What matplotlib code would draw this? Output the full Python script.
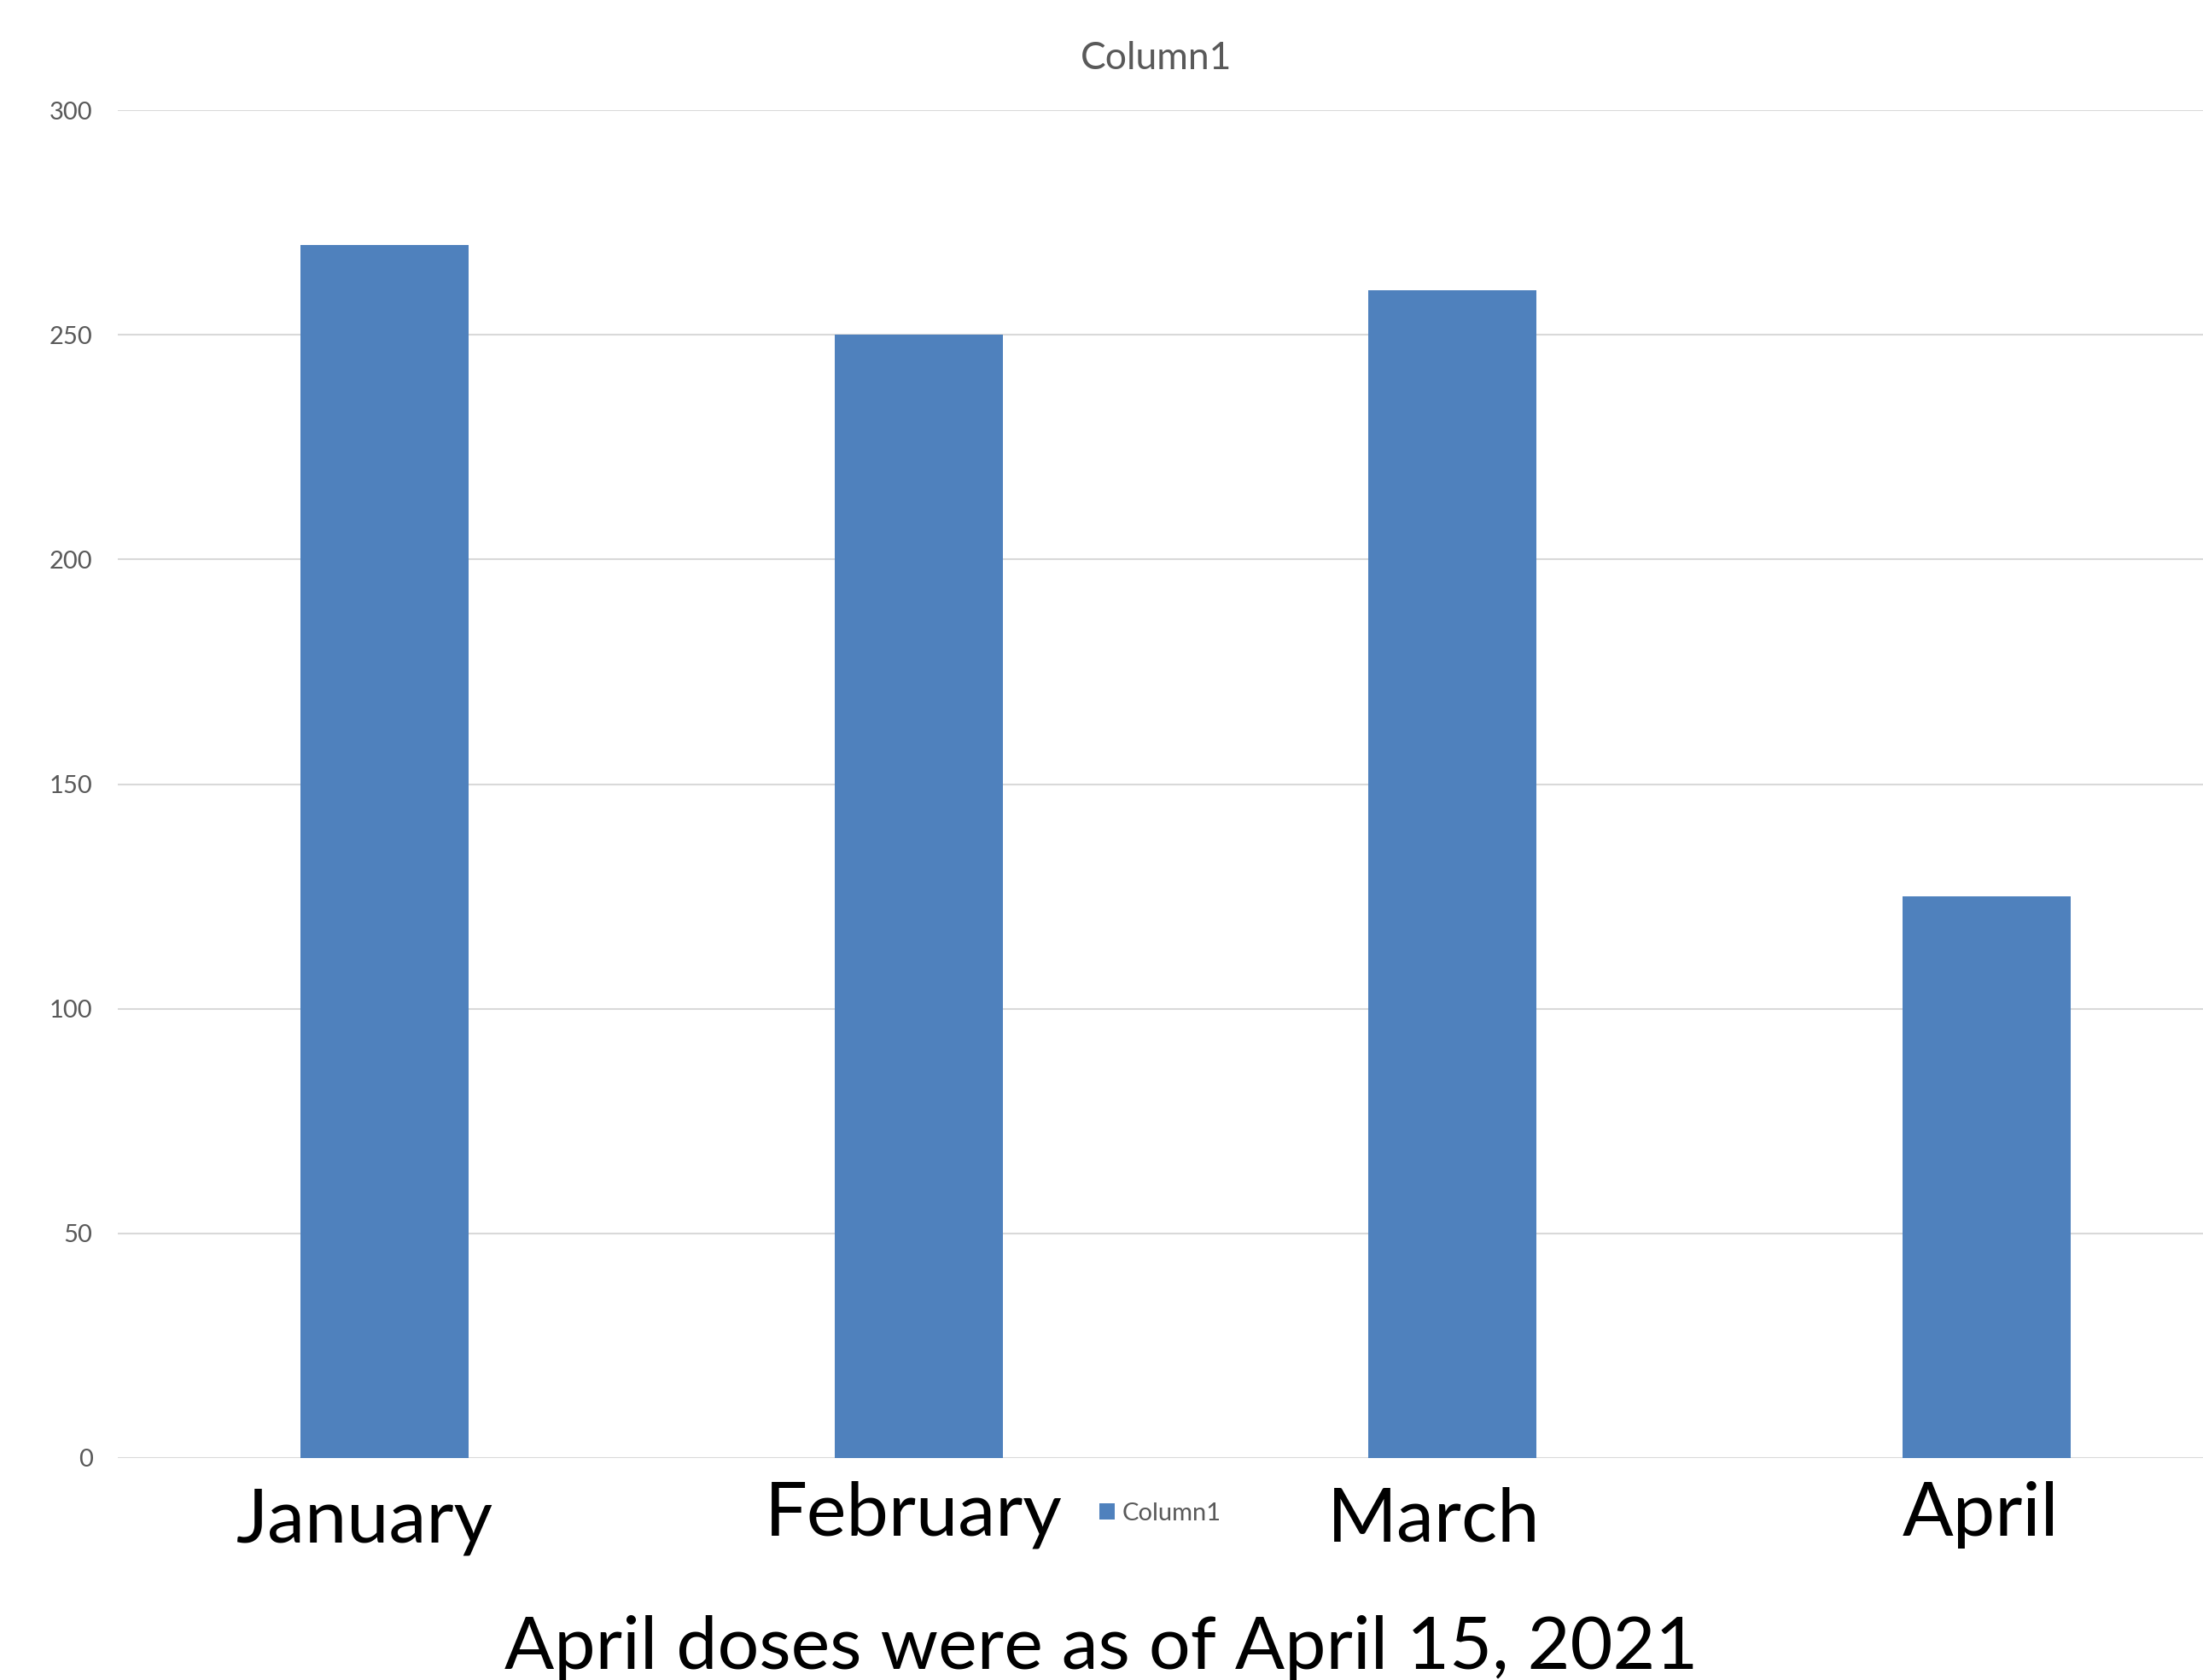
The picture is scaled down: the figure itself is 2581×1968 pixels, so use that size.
import matplotlib
matplotlib.use("Agg")
import matplotlib.pyplot as plt
import matplotlib.transforms as mtransforms
from matplotlib.patches import Patch

# ---- data ----
categories = ["January", "February", "March", "April"]
values = [270, 250, 260, 125]
series_name = "Column1"
yticks = [0, 50, 100, 150, 200, 250, 300]
footnote = "April doses were as of April 15, 2021"

# ---- style ----
W, H, DPI = 2581, 1968, 100
BAR = "#4F81BD"
GRID = "#D9D9D9"
GRAY = "#595959"
FONT = ["Lato", "DejaVu Sans"]
plt.rcParams["font.family"] = FONT

fig = plt.figure(figsize=(W / DPI, H / DPI), dpi=DPI)
fig.patch.set_facecolor("white")

ax_left, ax_right, ax_top, ax_bottom = 137.7, W, 129, 1708
ax = fig.add_axes([ax_left / W, 1 - ax_bottom / H,
                   (ax_right - ax_left) / W, (ax_bottom - ax_top) / H])

x = list(range(len(categories)))
ax.bar(x, values, width=0.315, color=BAR, zorder=3)

ax.set_ylim(0, 300)
ax.set_xlim(-0.5, 3 + (W - 2327.5) / 625.7)
ax.set_yticks(yticks)
ax.set_yticklabels([str(t) for t in yticks], fontsize=21, color=GRAY)
ax.tick_params(axis="y", length=0, pad=21)
ax.grid(axis="y", color=GRID, linewidth=1.5, zorder=0)
ax.set_axisbelow(True)
for s in ax.spines.values():
    s.set_visible(False)

# category labels
ax.set_xticks([])
label_dx = [-0.037, -0.010, -0.035, -0.011]
label_dy_px = [98, 91, 98, 91]
ax_h_px = ax_bottom - ax_top
trans = mtransforms.blended_transform_factory(ax.transData, ax.transAxes)
for i, (cat, dx, dy) in enumerate(zip(categories, label_dx, label_dy_px)):
    ax.text(i + dx, -dy / ax_h_px, cat, transform=trans, ha="center",
            va="baseline", fontsize=63.5, color="black", clip_on=False)

# title
fig.text(1355 / W, 1 - 81 / H, series_name, ha="center", va="baseline",
         fontsize=32, color=GRAY)

# legend
leg = fig.legend(handles=[Patch(facecolor=BAR, label=series_name)],
                 loc="center left", bbox_to_anchor=(1288 / W, 1 - 1773 / H),
                 frameon=False, fontsize=21, handlelength=0.62,
                 handleheight=0.62, handletextpad=0.3, borderpad=0,
                 borderaxespad=0)
for t in leg.get_texts():
    t.set_color(GRAY)

# footnote
fig.text(0.5, 1 - 1955 / H, footnote, ha="center", va="baseline",
         fontsize=62, color="black")

fig.savefig("out.png", dpi=DPI)
